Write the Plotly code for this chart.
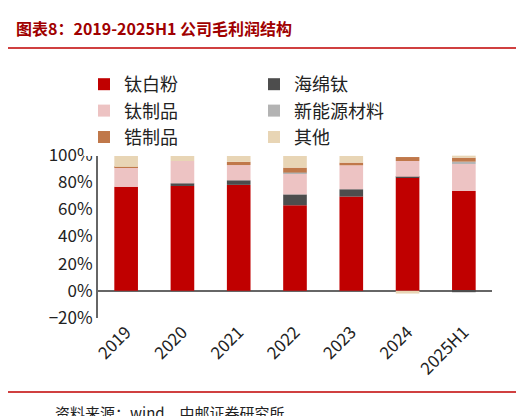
import plotly.graph_objects as go

years = ["2019", "2020", "2021", "2022", "2023", "2024", "2025H1"]
tio2 = [76.7, 77.2, 78.0, 63.0, 69.4, 83.3, 73.5]
sponge = [0, 2.0, 3.4, 8.0, 5.4, 0.7, -1.0]
ti_products = [14.0, 16.4, 11.2, 15.3, 17.6, 11.6, 19.9]
new_mat = [0, 0, 0, 0.8, 0, 0, 1.7]
zr_products = [0.5, 0, 2.4, 3.6, 2.0, 2.9, 2.9]
others = [8.8, 4.4, 5.0, 9.3, 5.1, -2.0, 1.5]
series = [("钛白粉", tio2, "#C00000"), ("海绵钛", sponge, "#4D4D4D"),
          ("钛制品", ti_products, "#EDC3C3"), ("新能源材料", new_mat, "#B3B3B3"),
          ("锆制品", zr_products, "#C0784A"), ("其他", others, "#E8D5B5")]

fig = go.Figure()
for name, vals, col in series:
    fig.add_bar(x=years, y=vals, name=name, marker_color=col, width=0.42,
                marker_line_width=0)

W, H, L, R, T, B = 524, 416, 90, 40, 147, 106
pw, ph = W - L - R, H - T - B
px = lambda x: (x - L) / pw
py = lambda y: (H - B - y) / ph

fig.update_layout(
    barmode="relative", width=W, height=H, plot_bgcolor="white",
    paper_bgcolor="white", font=dict(family="Noto Sans CJK SC", size=17, color="#222"),
    margin=dict(l=L, r=R, t=T, b=B),
    legend=dict(orientation="h", x=px(76), y=py(58), xanchor="left", yanchor="top",
                entrywidth=125, font=dict(size=18), traceorder="normal"),
)
fig.update_yaxes(range=[-20, 100], dtick=20, ticksuffix="%", showgrid=False,
                 zeroline=True, zerolinecolor="#666", zerolinewidth=2,
                 showline=True, linecolor="#666", linewidth=2, ticks="")
fig.update_xaxes(tickangle=-45, showline=False, ticks="")
fig.add_annotation(text="<b>图表8：2019-2025H1 公司毛利润结构</b>", x=px(6), y=py(20),
                   xref="paper", yref="paper", xanchor="left", yanchor="middle",
                   showarrow=False, font=dict(size=16, color="#A00000"))
fig.add_shape(type="line", xref="paper", yref="paper", x0=px(0), x1=px(524),
              y0=py(40), y1=py(40), line=dict(color="#C00000", width=1.5))
fig.add_shape(type="line", xref="paper", yref="paper", x0=px(0), x1=px(524),
              y0=py(384), y1=py(384), line=dict(color="#C00000", width=1.5))
fig.add_annotation(text="资料来源：wind、中邮证券研究所", x=px(45), y=py(404),
                   xref="paper", yref="paper", xanchor="left", yanchor="middle",
                   showarrow=False, font=dict(size=15, color="#222"))
fig.write_html("out.html")
